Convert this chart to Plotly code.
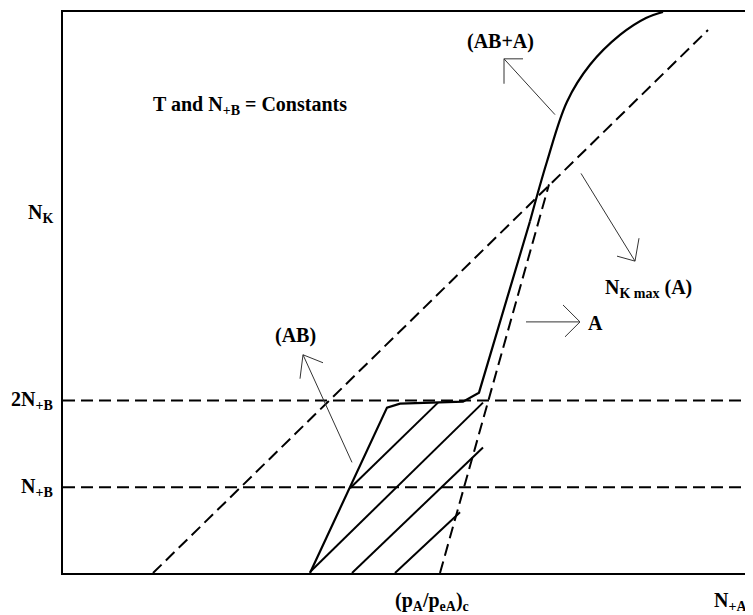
import plotly.graph_objects as go

# ---- schematic data (units; origin at lower-left of frame) ----
x_max, y_max = 686, 563
level_NB = 86          # N+B
level_2NB = 173        # 2N+B
level_NK = 361         # N_K label level

# dashed N_K max (A) diagonal
nkmax_x = [90, 645]
nkmax_y = [0, 545]
# dashed steep line A
a_x = [377, 486]
a_y = [0, 390]
# solid (AB) + (AB+A) curve, lower piecewise part
ab_x = [247, 324, 337, 400, 416, 467]
ab_y = [0, 166, 170, 172, 181, 353]
# upper curved part (AB+A)
aba_x = [467, 484, 504, 527, 557, 583, 600]
aba_y = [353, 413, 473, 510, 540, 557, 563]
# hatching lines
hatch = [
    ([287, 375], [85, 171]),
    ([247, 420], [1, 171]),
    ([289, 420], [0, 126]),
    ([332, 397], [0, 61]),
]
# arrows: (shaft start, tip, barb1, barb2)
arrows = [
    ((492, 460), (441, 516), (460, 516), (441, 491)),   # (AB+A)
    ((518, 401), (572, 313), (554, 318), (576, 336)),   # N_K max (A)
    ((463, 252), (517, 252), (500, 269), (502, 237)),   # A
    ((289, 111), (240, 219), (260, 211), (237, 195)),   # (AB)
]
labels = [
    ("<b>(AB+A)</b>", 437, 533),
    ("<b>N<sub>K max</sub> (A)</b>", 585, 286),
    ("<b>A</b>", 532, 251),
    ("<b>(AB)</b>", 232, 238),
    ("<b>T and N<sub>+B</sub> = Constants</b>", 187, 469),
]
left_labels = [("<b>N<sub>K</sub></b>", level_NK), ("<b>2N<sub>+B</sub></b>", level_2NB),
               ("<b>N<sub>+B</sub></b>", level_NB)]
bottom_labels = [("<b>(p<sub>A</sub>/p<sub>eA</sub>)<sub>c</sub></b>", 369), ("<b>N<sub>+A</sub></b>", 667)]

FONT = "Liberation Serif"
FS = 20
DASH = "12px,6px"

fig = go.Figure()

def line(x, y, width=2, dash="solid", color="black", shape="linear"):
    fig.add_trace(go.Scatter(x=x, y=y, mode="lines", hoverinfo="skip", showlegend=False,
                             line=dict(color=color, width=width, dash=dash, shape=shape)))

line([0, x_max], [level_2NB, level_2NB], dash=DASH)
line([0, x_max], [level_NB, level_NB], dash=DASH)
line(nkmax_x, nkmax_y, dash=DASH)
line(a_x, a_y, dash=DASH)
line(ab_x, ab_y, width=2.2)
line(aba_x, aba_y, width=2.2, shape="spline")
for hx, hy in hatch:
    line(hx, hy, width=2)
for s, t, b1, b2 in arrows:
    line([s[0], t[0]], [s[1], t[1]], width=1, color="#333")
    line([b1[0], t[0], b2[0]], [b1[1], t[1], b2[1]], width=1, color="#333")

ann = []
for txt, x, y in labels:
    ann.append(dict(text=txt, x=x, y=y, xref="x", yref="y", showarrow=False,
                    font=dict(family=FONT, size=FS, color="black")))
for txt, y in left_labels:
    ann.append(dict(text=txt, x=0, y=y, xref="paper", yref="y", xanchor="right", xshift=-8,
                    showarrow=False, font=dict(family=FONT, size=FS, color="black")))
for txt, x in bottom_labels:
    ann.append(dict(text=txt, x=x, y=0, xref="x", yref="paper", yanchor="top", yshift=-14,
                    showarrow=False, font=dict(family=FONT, size=FS, color="black")))

ax = dict(showgrid=False, zeroline=False, showticklabels=False, ticks="",
          showline=True, mirror=True, linecolor="black", linewidth=2)
fig.update_layout(
    width=745, height=607,
    margin=dict(l=55, r=4, t=2, b=42),
    paper_bgcolor="white", plot_bgcolor="white",
    xaxis=dict(range=[0, x_max], **ax),
    yaxis=dict(range=[0, y_max], **ax),
    annotations=ann,
)
fig.write_html("out.html")
